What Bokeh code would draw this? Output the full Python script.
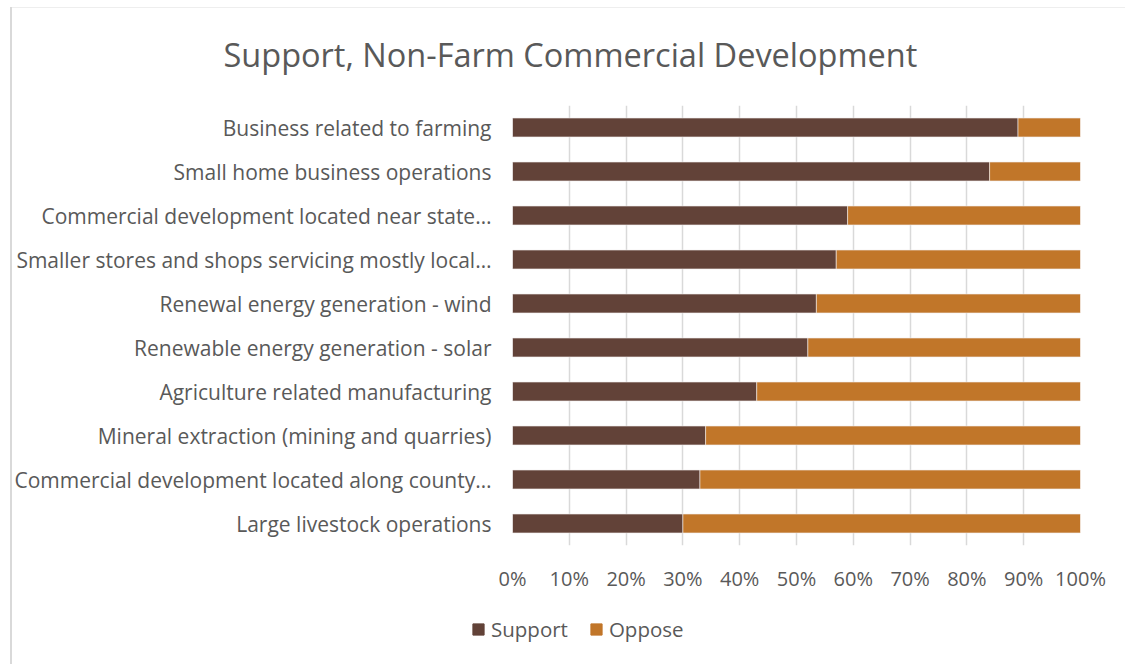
from bokeh.plotting import figure
from bokeh.layouts import column
from bokeh.models import ColumnDataSource, FactorRange, Legend, LegendItem, FixedTicker, CustomJSTickFormatter
from bokeh.embed import file_html
from bokeh.resources import INLINE

categories = [
    "Business related to farming",
    "Small home business operations",
    "Commercial development located near state…",
    "Smaller stores and shops servicing mostly local…",
    "Renewal energy generation - wind",
    "Renewable energy generation - solar",
    "Agriculture related manufacturing",
    "Mineral extraction (mining and quarries)",
    "Commercial development located along county…",
    "Large livestock operations",
]
support = [89, 84, 59, 57, 53.5, 52, 43, 34, 33, 30]
oppose = [11, 16, 41, 43, 46.5, 48, 57, 66, 67, 70]
x_ticks = [0, 10, 20, 30, 40, 50, 60, 70, 80, 90, 100]
series = ["Support", "Oppose"]
colors = ["#624238", "#c17629"]

FONT = "Open Sans"
GRAY = "#595959"

source = ColumnDataSource(dict(cat=categories, Support=support, Oppose=oppose))

p = figure(
    width=1125, height=608,
    y_range=FactorRange(factors=list(reversed(categories))),
    x_range=(0, 100),
    output_backend="svg", toolbar_location=None,
    min_border_left=512, min_border_right=45, min_border_top=104, min_border_bottom=63,
)
p.frame_align = False
p.outline_line_color = None
p.background_fill_color = None
p.border_fill_color = None

rs = p.hbar_stack(series, y="cat", height=0.43, source=source,
                  color=colors, line_color="#f2eeee", line_width=0.6)

p.xaxis.ticker = FixedTicker(ticks=x_ticks)
p.xaxis.formatter = CustomJSTickFormatter(code="return tick.toFixed(0) + '%';")
p.xaxis.axis_line_color = None
p.xaxis.major_tick_line_color = None
p.xaxis.minor_tick_line_color = None
p.xaxis.major_label_text_font = FONT
p.xaxis.major_label_text_font_size = "20px"
p.xaxis.major_label_text_color = GRAY
p.xaxis.major_label_standoff = 13

p.yaxis.axis_line_color = None
p.yaxis.major_tick_line_color = None
p.yaxis.minor_tick_line_color = None
p.yaxis.major_label_text_font = FONT
p.yaxis.major_label_text_font_size = "21px"
p.yaxis.major_label_text_color = GRAY
p.yaxis.major_label_standoff = 15

p.xgrid.grid_line_color = "#d9d9d9"
p.xgrid.grid_line_width = 1.5
p.xgrid.ticker = FixedTicker(ticks=x_ticks)
p.ygrid.grid_line_color = None

p.title.text = "Support, Non-Farm Commercial Development"
p.title.text_font = FONT
p.title.text_font_size = "32.5px"
p.title.text_font_style = "normal"
p.title.text_color = GRAY
p.title.align = "left"
p.title.offset = -289
p.title.standoff = 58

# legend strip below the chart
leg = figure(width=1125, height=56, x_range=(0, 1), y_range=(0, 1),
             output_backend="svg", toolbar_location=None, min_border=0)
leg.frame_align = False
leg.axis.visible = False
leg.grid.visible = False
leg.outline_line_color = None
leg.background_fill_color = None
leg.border_fill_color = None
leg_rs = [leg.vbar(x=[5], top=[0], bottom=[0], width=0.1, color=c) for c in colors]
legend = Legend(items=[LegendItem(label=s, renderers=[r]) for s, r in zip(series, leg_rs)],
                location=(471, 21), orientation="horizontal",
                label_text_font=FONT, label_text_font_size="20.5px", label_text_color=GRAY,
                glyph_width=14, glyph_height=14, spacing=21, label_standoff=6,
                border_line_color=None, background_fill_alpha=0, padding=0, margin=0)
leg.add_layout(legend)

layout = column(p, leg, spacing=0)
# faint chart-area border of the original (left and top edges)
layout.styles = {
    "background": "linear-gradient(#d9d9d9, #d9d9d9) 10px 7px / 2px 100% no-repeat, "
                  "linear-gradient(#eeeeee, #eeeeee) 10px 7px / 100% 1px no-repeat, white",
}

open("out.html", "w").write(file_html(layout, INLINE))
